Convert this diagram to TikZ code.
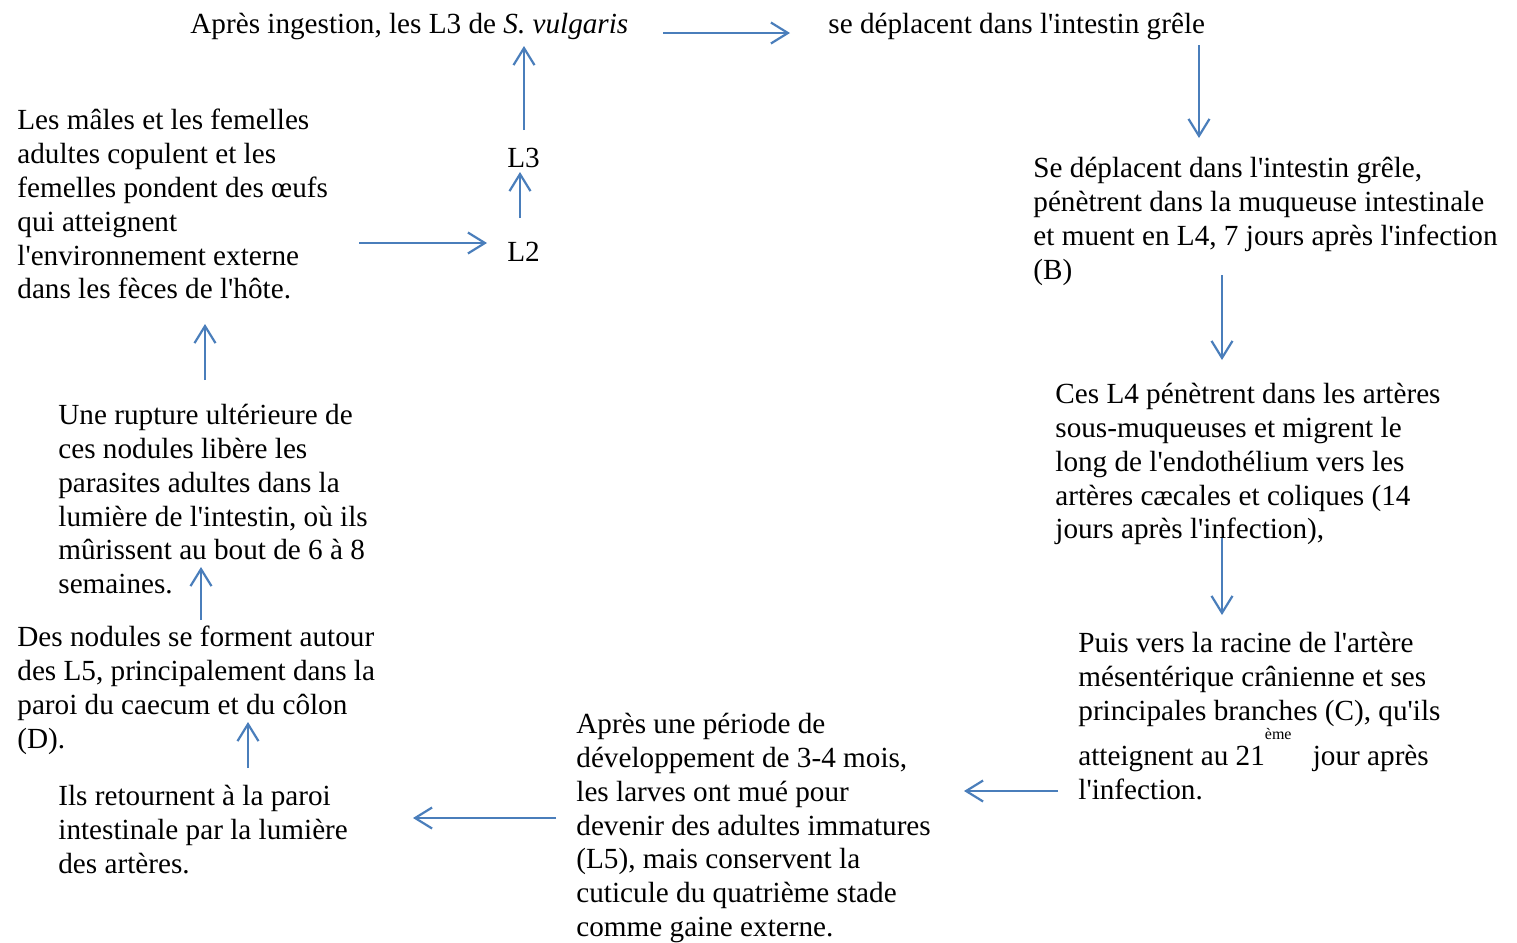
\documentclass[tikz,border=0pt]{standalone}
\usepackage{fontspec}
\setmainfont{Liberation Serif}[Ligatures=TeXOff]
\usetikzlibrary{arrows.meta}
\definecolor{flowblue}{HTML}{4A7EBB}

\begin{document}
\begin{tikzpicture}[x=0.5pt, y=-0.5pt,
    txt/.style={anchor=north west, inner sep=0pt, align=left,
      font=\fontsize{14.6}{16.9}\selectfont, execute at begin node=\strut},
    flow/.style={draw=flowblue, line width=1.1pt,
      -{Straight Barb[length=8.5pt, width=10.5pt]}}]
  \useasboundingbox (0,0) rectangle (1517,943);

  \node[txt] (ingest) at (190,9) {Après ingestion, les L3 de \textit{S. vulgaris}};
  \node[txt] (deplace) at (828,9) {se déplacent dans l'intestin grêle};
  \node[txt] (mue) at (1033,157) {Se déplacent dans l'intestin grêle,\\pénètrent dans la muqueuse intestinale\\et muent en L4, 7 jours après l'infection\\(B)};
  \node[txt] (arteres) at (1055,383) {Ces L4 pénètrent dans les artères\\sous-muqueuses et migrent le\\long de l'endothélium vers les\\artères cæcales et coliques (14\\jours après l'infection),};
  \node[txt] (racine) at (1078,632) {Puis vers la racine de l'artère\\mésentérique crânienne et ses\\principales branches (C), qu'ils\\atteignent au 21\raisebox{13pt}{\fontsize{8}{9}\selectfont ème}\hspace{7pt} jour après\\l'infection.};
  \node[txt] (adulte) at (576,713) {Après une période de\\développement de 3-4 mois,\\les larves ont mué pour\\devenir des adultes immatures\\(L5), mais conservent la\\cuticule du quatrième stade\\comme gaine externe.};
  \node[txt] (retour) at (58,785) {Ils retournent à la paroi\\intestinale par la lumière\\des artères.};
  \node[txt] (nodules) at (17,626) {Des nodules se forment autour\\des L5, principalement dans la\\paroi du caecum et du côlon\\(D).};
  \node[txt] (rupture) at (58,404) {Une rupture ultérieure de\\ces nodules libère les\\parasites adultes dans la\\lumière de l'intestin, où ils\\mûrissent au bout de 6 à 8\\semaines.};
  \node[txt] (ponte) at (17,109) {Les mâles et les femelles\\adultes copulent et les\\femelles pondent des œufs\\qui atteignent\\l'environnement externe\\dans les fèces de l'hôte.};
  \node[txt] (L2) at (507,237) {L2};
  \node[txt] (L3) at (507,143) {L3};

  \coordinate (ingest-out) at (663,33);
  \coordinate (deplace-in) at (790,33);
  \coordinate (deplace-out) at (1199,45);
  \coordinate (mue-in) at (1199,138);
  \coordinate (mue-out) at (1222,275);
  \coordinate (arteres-in) at (1222,360);
  \coordinate (arteres-out) at (1222,538);
  \coordinate (racine-in) at (1222,615);
  \coordinate (racine-out) at (1058,791);
  \coordinate (adulte-in) at (964,791);
  \coordinate (adulte-out) at (556,818);
  \coordinate (retour-in) at (413,818);
  \coordinate (retour-out) at (248,768);
  \coordinate (nodules-in) at (248,722);
  \coordinate (nodules-out) at (201,620);
  \coordinate (rupture-in) at (201,567);
  \coordinate (rupture-out) at (205,380);
  \coordinate (ponte-in) at (205,324);
  \coordinate (ponte-out) at (359,243);
  \coordinate (L2-in) at (487,243);
  \coordinate (L2-out) at (520,218);
  \coordinate (L3-in) at (520,172);
  \coordinate (L3-out) at (524,130);
  \coordinate (ingest-in) at (524,46);

  \draw[flow] (ingest-out) -- (deplace-in);
  \draw[flow] (deplace-out) -- (mue-in);
  \draw[flow] (mue-out) -- (arteres-in);
  \draw[flow] (arteres-out) -- (racine-in);
  \draw[flow] (racine-out) -- (adulte-in);
  \draw[flow] (adulte-out) -- (retour-in);
  \draw[flow] (retour-out) -- (nodules-in);
  \draw[flow] (nodules-out) -- (rupture-in);
  \draw[flow] (rupture-out) -- (ponte-in);
  \draw[flow] (ponte-out) -- (L2-in);
  \draw[flow] (L2-out) -- (L3-in);
  \draw[flow] (L3-out) -- (ingest-in);
\end{tikzpicture}
\end{document}
